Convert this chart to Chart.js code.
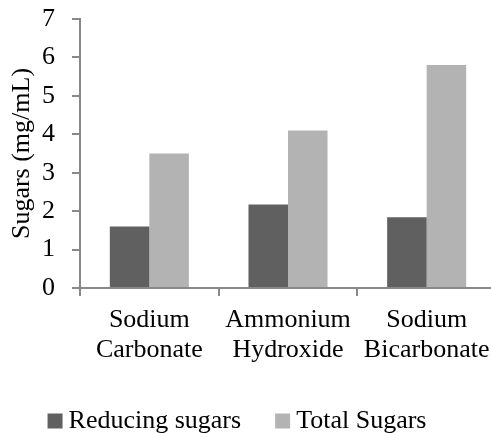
<!DOCTYPE html>
<html lang="en">
<head>
    <meta charset="UTF-8">
    <title>Sugars by treatment</title>
    <script src="https://cdn.jsdelivr.net/npm/chart.js"></script>
    <style>
        html, body { margin: 0; padding: 0; background: #fff; }
        .chart-box { width: 491px; height: 433px; position: relative; }
    </style>
</head>
<body>
    <div class="chart-box"><canvas id="sugarsChart"></canvas></div>
    <script>
        // valeurs
        const categories = [['Sodium', 'Carbonate'], ['Ammonium', 'Hydroxide'], ['Sodium', 'Bicarbonate']];
        const seriesNames = ['Reducing sugars', 'Total Sugars'];
        const reducingSugars = [1.6, 2.17, 1.84];
        const totalSugars = [3.5, 4.1, 5.8];
        const yTicks = [0, 1, 2, 3, 4, 5, 6, 7];

        const axisGray = '#888888';
        const serif = { family: '"Liberation Serif", "Times New Roman", serif', size: 26, lineHeight: 1.12 };

        Chart.defaults.color = '#000';
        Chart.defaults.font.family = serif.family;

        // l'axe x depasse un peu le bord droit, et la legende est decalee a gauche
        const layoutTweak = {
            id: 'layoutTweak',
            afterLayout(chart) {
                const x = chart.scales.x;
                x.right += 5;
                x.width += 5;
                x.configure();
                chart.chartArea.right += 5;
                chart.chartArea.width += 5;
                chart.legend.left -= 5;
                chart.legend.right -= 5;
            }
        };

        new Chart(document.getElementById('sugarsChart'), {
            type: 'bar',
            data: {
                labels: categories,
                datasets: [
                    { label: seriesNames[0], data: reducingSugars, backgroundColor: '#606060' },
                    { label: seriesNames[1], data: totalSugars, backgroundColor: '#b3b3b3' }
                ]
            },
            plugins: [layoutTweak],
            options: {
                responsive: true,
                maintainAspectRatio: false,
                animation: false,
                layout: { padding: { top: 19, right: 0, left: 0, bottom: -11 } },
                datasets: { bar: { categoryPercentage: 0.57, barPercentage: 1.0 } },
                plugins: {
                    tooltip: { enabled: false },
                    legend: {
                        position: 'bottom',
                        labels: {
                            font: serif,
                            usePointStyle: true,
                            pointStyle: 'rect',
                            boxWidth: 1,
                            boxHeight: 15,
                            padding: 41
                        }
                    }
                },
                scales: {
                    x: {
                        grid: { display: true, drawOnChartArea: false, color: axisGray, tickLength: 8, lineWidth: 2 },
                        border: { color: axisGray, width: 2 },
                        ticks: { font: serif, padding: 10, maxRotation: 0, autoSkip: false },
                        afterFit: (scale) => {
                            scale.height = 79;
                            scale.paddingLeft = 0;
                            scale.paddingRight = 0;
                        }
                    },
                    y: {
                        min: yTicks[0],
                        max: yTicks[yTicks.length - 1],
                        afterBuildTicks: (scale) => { scale.ticks = yTicks.map(v => ({ value: v })); },
                        grid: { display: true, drawOnChartArea: false, color: axisGray, tickLength: 8, lineWidth: 2 },
                        border: { color: axisGray, width: 2 },
                        ticks: { font: serif, padding: 17 },
                        title: { display: true, text: 'Sugars (mg/mL)', font: serif, padding: { top: 8, bottom: 0 } },
                        afterFit: (scale) => {
                            scale.width = 80;
                            scale.paddingTop = 0;
                            scale.paddingBottom = 0;
                        }
                    }
                }
            }
        });
    </script>
</body>
</html>
